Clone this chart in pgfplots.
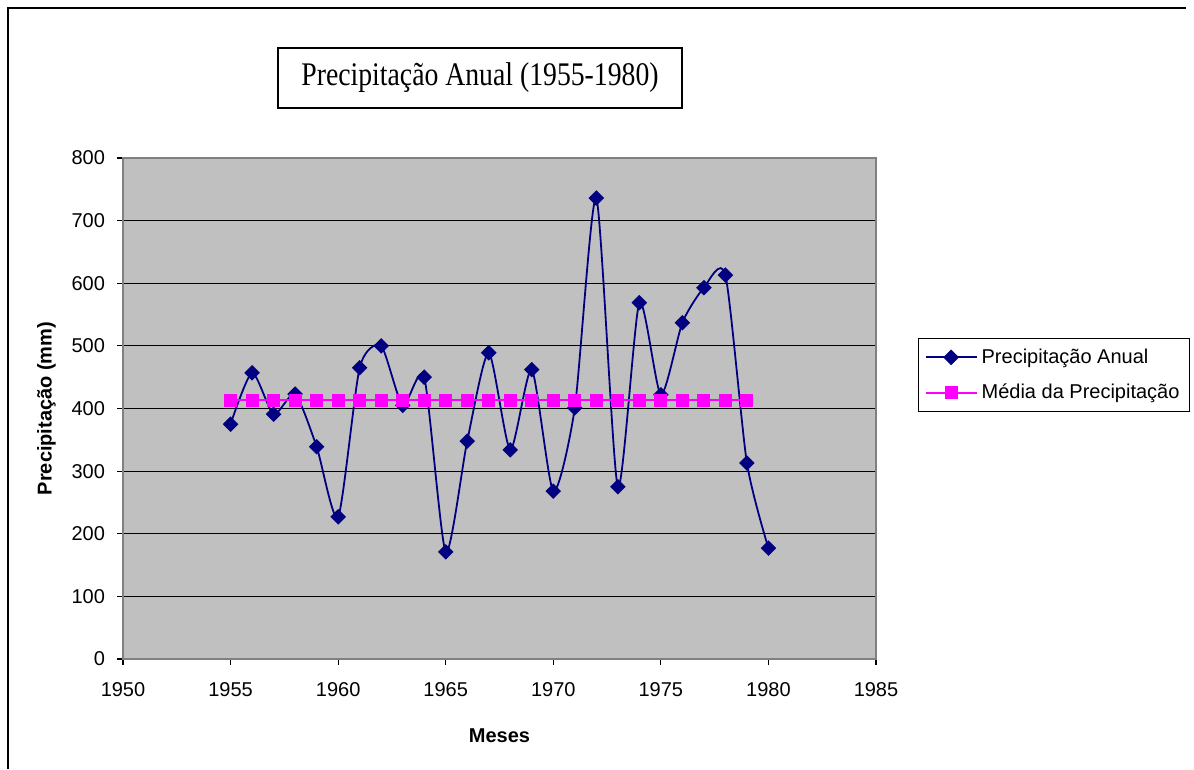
\documentclass[border=0pt]{standalone}
\usepackage{pgfplots}
\pgfplotsset{compat=1.18}
\usepackage{fontspec}
\setmainfont{Liberation Sans}
\newfontfamily\serifttl{Liberation Serif}
\definecolor{navyc}{RGB}{0,0,128}
\definecolor{magc}{RGB}{255,0,255}
\definecolor{plotbg}{RGB}{192,192,192}
\definecolor{bordc}{RGB}{128,128,128}
\begin{document}
\begin{tikzpicture}[x=0.5pt,y=0.5pt]
\path (0,0) rectangle (1194,769);
% outer frame
\draw[line width=1pt,black] (8,0) -- (8,761) -- (1186,761);
% title box
\draw[line width=0.8pt,black,fill=white] (278,661) rectangle (682,721);
\node at (480,691) {\scalebox{0.84}[1]{\serifttl\fontsize{16.5}{19}\selectfont Precipitação Anual (1955-1980)}};
\begin{axis}[
  at={(61.5pt,55pt)}, anchor=south west,
  scale only axis, width=376.5pt, height=250.5pt,
  xmin=1950, xmax=1985, ymin=0, ymax=800,
  xtick={1950,1955,...,1985}, ytick={0,100,...,800},
  /pgf/number format/1000 sep={},
  /pgf/number format/assume math mode=true,
  ticklabel style={font=\fontsize{10}{12}\selectfont},
  xticklabel style={yshift=-5pt},
  yticklabel style={xshift=-2.5pt},
  tick align=outside, tick pos=left, major tick length=3pt,
  tick style={black, line width=0.6pt},
  axis line style={bordc, line width=0.8pt},
  axis background/.style={fill=plotbg},
  ymajorgrids, grid style={black, line width=0.6pt},
  xlabel={\bfseries Meses}, ylabel={\bfseries Precipitação (mm)},
  xlabel style={yshift=-9.5pt},
  ylabel style={yshift=1pt},
  label style={font=\fontsize{10}{12}\selectfont},
  legend style={at={(rel axis cs:1.0558,0.6407)}, anchor=north west,
    draw=black, fill=white, line width=0.6pt, font=\fontsize{10}{12}\selectfont,
    row sep=5pt, inner xsep=3pt, inner ysep=3pt, cells={anchor=west}},
  legend image code/.code={\draw[mark repeat=2,mark phase=2] plot coordinates {(0cm,0cm) (0.45cm,0cm) (0.9cm,0cm)};},
]
\addplot[navyc, line width=0.9pt, smooth, tension=0.4, mark=square*, mark size=2.3pt, mark options={solid, rotate=45, fill=navyc, draw=navyc}] coordinates {
(1955,375) (1956,457) (1957,391) (1958,423) (1959,339) (1960,227)
(1961,465) (1962,500) (1963,405) (1964,450) (1965,171) (1966,348)
(1967,489) (1968,334) (1969,462) (1970,268) (1971,401) (1972,736)
(1973,275) (1974,569) (1975,422) (1976,537) (1977,593) (1978,613)
(1979,313) (1980,177)};
\addlegendentry{Precipitação Anual}
\addplot[magc, line width=0.9pt, mark=square*, mark size=2.8pt, mark options={solid, fill=magc, draw=magc}] coordinates {
(1955,413) (1956,413) (1957,413) (1958,413) (1959,413) (1960,413)
(1961,413) (1962,413) (1963,413) (1964,413) (1965,413) (1966,413)
(1967,413) (1968,413) (1969,413) (1970,413) (1971,413) (1972,413)
(1973,413) (1974,413) (1975,413) (1976,413) (1977,413) (1978,413)
(1979,413)};
\addlegendentry{Média da Precipitação}
\end{axis}
\end{tikzpicture}
\end{document}
